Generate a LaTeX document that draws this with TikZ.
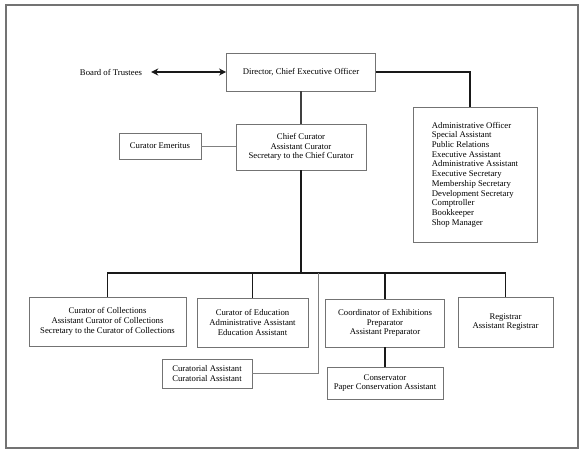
\documentclass[tikz,border=0pt]{standalone}
\usepackage{fontspec}
\setmainfont{Liberation Serif}
\usetikzlibrary{calc,arrows.meta}
\begin{document}
\begin{tikzpicture}[x=1pt,y=-1pt,
  box/.style={draw=black!55,line width=0.9pt,fill=white,align=center,inner sep=0pt,
    font=\fontsize{8.7}{9.7}\selectfont},
  txt/.style={align=center,inner sep=0pt,font=\fontsize{8.7}{9.7}\selectfont},
  link/.style={line width=1.7pt,black!90},
  thin/.style={line width=1pt,black!50}]
\useasboundingbox (0,0) rectangle (583,453);
\draw[black!55,line width=1.3pt] (6,5) rectangle (578,448);
\node[txt] (board) at (111,72) {Board of Trustees};
\node[box,minimum width=149,minimum height=38] (dir) at (301,72) {Director, Chief Executive Officer};
\node[box,minimum width=130,minimum height=46] (chief) at (301,147) {Chief Curator\\Assistant Curator\\Secretary to the Chief Curator};
\node[box,minimum width=82,minimum height=26] (emer) at (160,146) {Curator Emeritus};
\node[box,minimum width=124,minimum height=135,align=left] (admin) at (475,174.5) {Administrative Officer\\Special Assistant\\Public Relations\\Executive Assistant\\Administrative Assistant\\Executive Secretary\\Membership Secretary\\Development Secretary\\Comptroller\\Bookkeeper\\Shop Manager};
\node[box,minimum width=157,minimum height=49] (coll) at (107.5,321.5) {Curator of Collections\\Assistant Curator of Collections\\Secretary to the Curator of Collections};
\node[box,minimum width=111,minimum height=49] (edu) at (252.5,322.5) {Curator of Education\\Administrative Assistant\\Education Assistant};
\node[box,minimum width=119,minimum height=48] (exh) at (385,323) {Coordinator of Exhibitions\\Preparator\\Assistant Preparator};
\node[box,minimum width=95,minimum height=50] (reg) at (505.5,322) {Registrar\\Assistant Registrar};
\node[box,minimum width=90,minimum height=29] (cura) at (207,373.5) {Curatorial Assistant\\Curatorial Assistant};
\node[box,minimum width=116,minimum height=32] (cons) at (385,383) {Conservator\\Paper Conservation Assistant};
\coordinate (bus) at (301,273);
\coordinate (gray) at (318,273);
% connectors
\draw[link,{Stealth[length=7pt,width=7pt]}-{Stealth[length=7pt,width=7pt]},shorten <=9pt] (board.east) -- (dir.west);
\draw[link] (dir.east) -| ([xshift=-5]admin.north);
\draw[line width=1.7pt,black!75] (dir.south) -- (chief.north);
\draw[thin] (emer.east) -- (emer.east -| chief.west);
\draw[link] (chief.south) -- (bus);
\draw[link] (coll.north) |- (bus) -| (reg.north);
\draw[link] (edu.north) -- (edu.north |- bus);
\draw[link] (exh.north) -- (exh.north |- bus);
\draw[thin] (gray) |- (cura.east);
\draw[link] (exh.south) -- (cons.north);
\end{tikzpicture}
\end{document}
